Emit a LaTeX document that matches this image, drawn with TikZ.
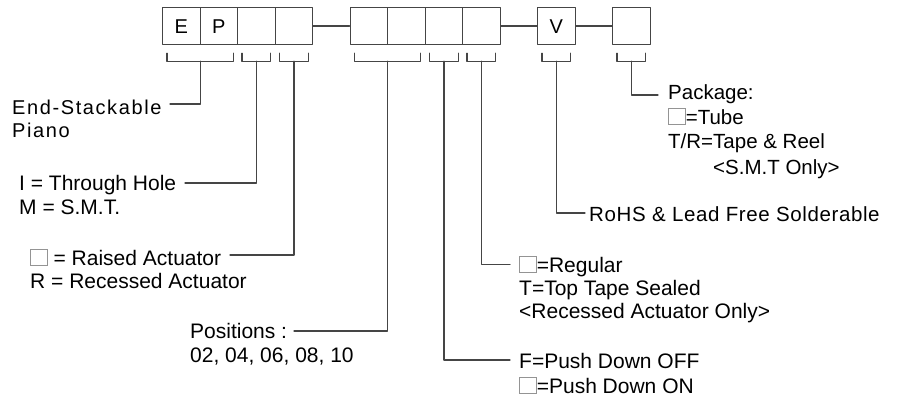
\documentclass[tikz,border=0pt]{standalone}
\usepackage{fontspec}
\usepackage{tikz}
\setmainfont{Liberation Sans}
\newfontfamily\widefont[LetterSpace=8]{Liberation Sans}
\usetikzlibrary{calc}
\definecolor{zzzzzz}{rgb}{0.27,0.27,0.27}
\definecolor{wwwwww}{rgb}{0.58,0.58,0.58}
\newcommand{\blank}{\textcolor{wwwwww}{\fboxsep=0pt\fboxrule=0.8pt\fbox{\rule{0pt}{15pt}\hspace{16pt}}}}
\tikzstyle{cell}=[draw=zzzzzz,line width=1.3pt,minimum width=37.5pt,minimum height=37pt,inner sep=0pt,anchor=north west,font=\fontsize{20}{20}\selectfont]
\tikzstyle{lead}=[line width=1.3pt,color=zzzzzz]
\tikzstyle{lbl}=[anchor=base west,inner sep=0pt,align=left,font=\fontsize{21}{24}\selectfont]

\begin{document}
\begin{tikzpicture}[line cap=round,line join=round,x=1pt,y=-1pt]
\useasboundingbox (0,0) rectangle (915,401);
% code boxes
\foreach \i/\t in {0/E,1/P,2/,3/,5/,6/,7/,8/,10/V,12/}
  \node[cell] (c\i) at ({162+37.5*\i},7) {\t};
\draw[lead] (c3.east) -- (c5.west);
\draw[lead] (c8.east) -- (c10.west);
\draw[lead] (c10.east) -- (c12.west);
% brackets under the boxes
\foreach \a/\b/\n in {0/1/ep,2/2/mt,3/3/ac,5/6/po,7/7/pd,8/8/ts,10/10/rh,12/12/pk}{
  \draw[lead] ([xshift=5pt,yshift=-8pt]c\a.south west) -- ++(0,8) -| ([xshift=-5pt,yshift=-8pt]c\b.south east);
  \coordinate (s\n) at ($(c\a.south west)!0.5!(c\b.south east)+(0,16)$);
}
% labels (anchored at the baseline of their last line)
\node[lbl,font=\widefont\fontsize{20}{24}\selectfont] (lep) at (12,138) {End-Stackable\\Piano};
\node[lbl] (lmt) at (19,214) {I = Through Hole\\M = S.M.T.};
\node[lbl,font=\fontsize{21}{23}\selectfont] (lac) at (30,288) {\blank{} = Raised Actuator\\R = Recessed Actuator};
\node[lbl] (lpo) at (190,362) {Positions :\\02, 04, 06, 08, 10};
\node[lbl,font=\fontsize{21}{25}\selectfont] (lpd) at (519,393) {F=Push Down OFF\\\blank=Push Down ON};
\node[lbl,font=\fontsize{21}{23}\selectfont] (lts) at (519,318) {\blank=Regular\\T=Top Tape Sealed\\<Recessed Actuator Only>};
\node[lbl,font=\fontsize{20.5}{24}\selectfont\addfontfeature{LetterSpace=3}] (lrh) at (589,221) {RoHS \& Lead Free Solderable};
\node[lbl,font=\fontsize{20.5}{25}\selectfont] (lpk) at (668,174) {Package:\\\blank=Tube\\T/R=Tape \& Reel\\\hspace*{45pt}<S.M.T Only>};
% leader ends
\coordinate (eep) at (170,104);
\coordinate (emt) at (185,183);
\coordinate (eac) at (230,255);
\coordinate (epo) at (294,331);
\coordinate (epd) at (510,360);
\coordinate (ets) at (510,264.5);
\coordinate (erh) at (585,213);
\coordinate (epk) at (658,95);
\foreach \n in {ep,mt,ac,po,pd,ts,rh,pk}
  \draw[lead] (s\n) |- (e\n);
\end{tikzpicture}
\end{document}
